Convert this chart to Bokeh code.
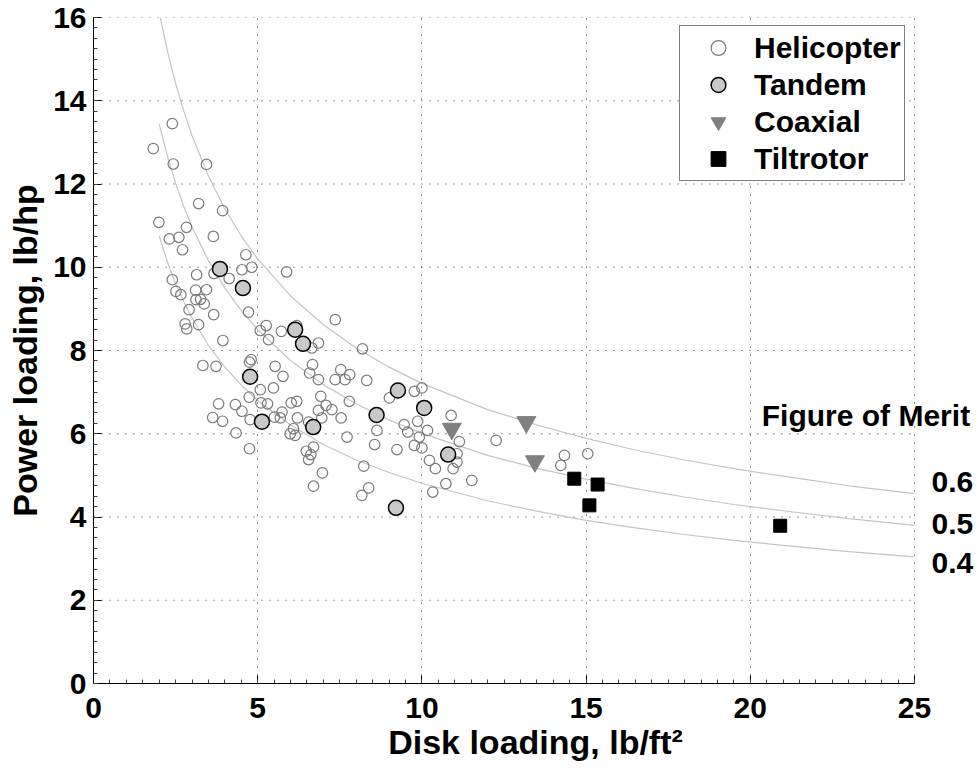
from bokeh.plotting import figure
from bokeh.models import Range1d, Label, FixedTicker
from bokeh.embed import file_html
from bokeh.resources import INLINE

# ---------------- data ----------------
heli_x = [2.40, 1.82, 2.43, 3.44, 3.20, 3.93,
          1.99, 2.83, 2.31, 2.60, 2.71, 3.65, 4.64, 4.52, 4.82, 5.88, 3.67, 2.40, 3.14, 4.13,
          2.51, 2.66, 3.11, 3.44, 3.12, 3.26, 3.37, 2.91,
          2.79, 2.84, 3.20, 3.66, 4.72, 3.94, 5.08, 5.26, 5.33, 5.72, 6.19, 6.65, 6.85, 7.36,
          8.19, 3.33, 3.73, 4.80, 4.75, 5.53, 5.77, 6.67, 6.58, 6.85, 7.53, 7.80, 7.36, 7.66,
          8.32, 9.01, 9.77, 10.00, 5.08, 5.48, 4.74, 5.10, 5.30, 6.02, 6.19, 6.92, 7.08, 6.85,
          7.26, 6.95, 7.54, 7.79, 3.81, 4.32, 4.52, 3.63, 3.93, 4.77, 5.51, 5.69, 5.74, 6.21,
          6.55, 4.34, 5.99, 6.14, 6.09, 7.72, 8.63, 8.56, 9.24, 9.46, 9.57, 9.87, 9.92, 9.77,
          10.00, 10.17, 4.75, 6.48, 6.70, 6.62, 6.55, 6.97, 6.70, 8.23, 8.38, 8.17, 10.23,
          10.41, 10.33,
          10.89, 11.14, 11.07, 11.07, 10.95, 11.52, 10.73, 12.26, 14.34, 14.23, 15.05]
heli_y = [13.45, 12.85, 12.48, 12.47, 11.53, 11.36,
          11.08, 10.96, 10.68, 10.72, 10.42, 10.74, 10.30, 9.94, 10.00, 9.89, 9.85, 9.70, 9.82, 9.73,
          9.42, 9.34, 9.45, 9.46, 9.22, 9.23, 9.12, 8.98,
          8.64, 8.52, 8.62, 8.86, 8.92, 8.24, 8.48, 8.60, 8.26, 8.46, 8.60, 8.06, 8.18, 8.74,
          8.04, 7.64, 7.62, 7.78, 7.72, 7.62, 7.38, 7.66, 7.46, 7.30, 7.54, 7.42, 7.30, 7.30,
          7.28, 6.86, 7.02, 7.10, 7.06, 7.10, 6.88, 6.74, 6.72, 6.74, 6.78, 6.90, 6.68, 6.56,
          6.58, 6.38, 6.38, 6.78, 6.72, 6.70, 6.54, 6.39, 6.30, 6.34, 6.40, 6.38, 6.52, 6.38,
          6.28, 6.02, 6.00, 5.96, 6.12, 5.92, 6.08, 5.74, 5.62, 6.22, 6.04, 6.30, 5.92, 5.72,
          5.66, 6.08, 5.64, 5.58, 5.68, 5.50, 5.38, 5.06, 4.74, 5.22, 4.70, 4.52, 5.36,
          5.16, 4.60,
          6.44, 5.81, 5.52, 5.32, 5.16, 4.88, 4.80, 5.84, 5.48, 5.24, 5.52]

tandem_x = [3.85, 4.55, 6.14, 6.38, 4.77, 9.27, 10.07, 8.62, 5.13, 6.69, 10.80, 9.21]
tandem_y = [9.96, 9.50, 8.50, 8.16, 7.37, 7.04, 6.62, 6.45, 6.29, 6.16, 5.50, 4.22]

coax_x = [10.91, 13.18, 13.44]
coax_y = [6.12, 6.28, 5.34]

tilt_x = [14.64, 15.35, 15.10, 20.91]
tilt_y = [4.92, 4.78, 4.28, 3.79]

# Figure-of-merit reference curves
curve_dl = [2.0, 2.25, 2.5, 2.75, 3.0, 3.5, 4.0, 4.5, 5.0, 6.0, 7.0, 8.0, 9.0, 10.0,
            12.0, 13.5, 15.0, 16.5, 18.0, 19.5, 21.0, 23.0, 25.0]
pl_fm06 = [16.12, 15.2, 14.42, 13.75, 13.16, 12.19, 11.4, 10.75, 10.2, 9.31, 8.62, 8.06,
           7.6, 7.21, 6.58, 6.21, 5.89, 5.61, 5.37, 5.16, 4.98, 4.75, 4.56]
pl_fm05 = [13.44, 12.67, 12.02, 11.46, 10.97, 10.16, 9.5, 8.96, 8.5, 7.76, 7.18, 6.72,
           6.33, 6.01, 5.48, 5.17, 4.91, 4.68, 4.48, 4.30, 4.15, 3.96, 3.8]
pl_fm04 = [10.75, 10.13, 9.61, 9.17, 8.78, 8.12, 7.6, 7.17, 6.8, 6.21, 5.74, 5.37,
           5.07, 4.81, 4.39, 4.14, 3.92, 3.74, 3.58, 3.44, 3.32, 3.17, 3.04]
fm_labels = ["0.6", "0.5", "0.4"]
fm_label_y = [4.84, 3.82, 2.90]

x_ticks = [0, 5, 10, 15, 20, 25]
y_ticks = [0, 2, 4, 6, 8, 10, 12, 14, 16]
x_min, x_max = 0, 25
y_min, y_max = 0, 16

FONT = "Liberation Sans"

W, H = 977, 771
LEFT, TOP, BOTTOM = 93, 17, 88
frame_w = W - LEFT
px_per_unit = 821 / 25.0          # reference scale of the x axis
x_end = frame_w / px_per_unit     # frame reaches the canvas edge so right-hand texts fit

p = figure(width=W, height=H, output_backend="svg", toolbar_location=None,
           x_range=Range1d(x_min, x_end), y_range=Range1d(y_min, y_max),
           min_border_left=LEFT, min_border_right=0, min_border_top=TOP,
           min_border_bottom=BOTTOM)
p.outline_line_color = None
p.background_fill_color = "white"
p.border_fill_color = "white"

# grid: vertical lines via Grid, horizontal lines drawn only over 0..25
p.xgrid.grid_line_color = "#333333"
p.xgrid.grid_line_dash = "1 7"
p.xgrid.grid_line_width = 1
p.ygrid.visible = False
p.segment(x0=[x_min] * len(y_ticks), y0=y_ticks, x1=[x_max] * len(y_ticks), y1=y_ticks,
          line_color="#333333", line_dash="1 7", line_width=1)

# axes
p.xaxis.ticker = FixedTicker(ticks=x_ticks, minor_ticks=[i * 0.5 for i in range(51)])
p.yaxis.ticker = FixedTicker(ticks=y_ticks, minor_ticks=[i * 0.25 for i in range(65)])
p.xaxis.bounds = (x_min, x_max)
for ax in (p.xaxis[0], p.yaxis[0]):
    ax.axis_line_color = "black"
    ax.axis_line_width = 1
    ax.major_tick_in = 8
    ax.major_tick_out = 0
    ax.minor_tick_in = 4
    ax.minor_tick_out = 0
    ax.major_tick_line_color = "black"
    ax.minor_tick_line_color = "#444444"
    ax.major_label_text_font = FONT
    ax.major_label_text_font_style = "bold"
    ax.major_label_text_font_size = "30px"
    ax.major_label_text_color = "black"
    ax.axis_label_text_font = FONT
    ax.axis_label_text_font_style = "bold"
    ax.axis_label_text_font_size = "34px"
    ax.axis_label_text_color = "black"
p.xaxis.axis_label = "Disk loading, lb/ft²"
p.yaxis.axis_label = "Power loading, lb/hp"
p.xaxis.major_label_standoff = 14
p.yaxis.major_label_standoff = 7
p.xaxis.axis_label_standoff = 2
p.yaxis.axis_label_standoff = 6

# FM curves
for pl in (pl_fm06, pl_fm05, pl_fm04):
    p.line(curve_dl, pl, line_color="#c4c4c4", line_width=1.2)

# data points
p.scatter(heli_x, heli_y, marker="circle", size=10.5, fill_color=None,
          line_color="#7a7a7a", line_width=1.2, legend_label="Helicopter")
p.scatter(tandem_x, tandem_y, marker="circle", size=15, fill_color="#c8c8c8",
          line_color="black", line_width=1.5, legend_label="Tandem")
p.scatter(coax_x, coax_y, marker="inverted_triangle", size=19, fill_color="#808080",
          line_color="#808080", line_width=1, legend_label="Coaxial")
p.scatter(tilt_x, tilt_y, marker="square", size=13, fill_color="black",
          line_color="black", legend_label="Tiltrotor")

# legend
lg = p.legend[0]
lg.location = (586, 502)
lg.label_text_font = FONT
lg.label_text_font_style = "bold"
lg.label_text_font_size = "30px"
lg.label_text_color = "black"
lg.label_height = 37
lg.glyph_height = 37
lg.glyph_width = 70
lg.label_standoff = 1
lg.padding = 3
lg.spacing = 0
lg.margin = 0
lg.border_line_color = "black"
lg.border_line_width = 1.5
lg.background_fill_color = "white"
lg.background_fill_alpha = 1.0

# annotations
p.add_layout(Label(x=20.35, y=6.45, text="Figure of Merit", text_font=FONT,
                   text_font_style="bold", text_font_size="30px",
                   text_baseline="middle", text_color="black"))
for t, yy in zip(fm_labels, fm_label_y):
    p.add_layout(Label(x=x_max, y=yy, x_offset=17, text=t, text_font=FONT,
                       text_font_style="bold", text_font_size="30px",
                       text_baseline="middle", text_color="black"))

open("out.html", "w").write(file_html(p, INLINE))
